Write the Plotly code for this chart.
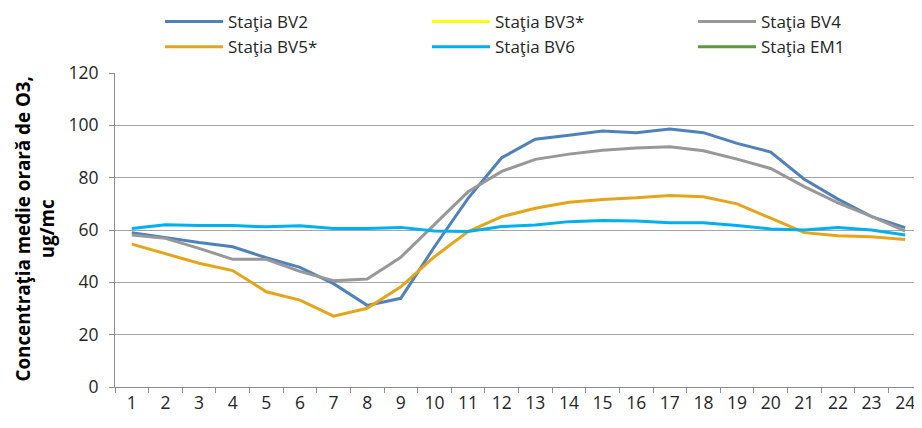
import plotly.graph_objects as go

hours = [str(h) for h in range(1, 25)]

bv2 = [59, 57, 55.2, 53.6, 49.4, 45.7, 39.5, 31.2, 33.9, 53.6, 72.1, 87.6, 94.7, 96.2, 97.8, 97.2, 98.6, 97.2, 93.1, 89.8, 79.4, 71.8, 65.1, 60.9]
bv3 = [None] * 24
bv4 = [58.1, 56.8, 53.0, 48.8, 48.8, 44.2, 40.6, 41.3, 49.6, 62.3, 74.6, 82.4, 87.0, 89.0, 90.5, 91.3, 91.8, 90.3, 87.1, 83.5, 76.6, 70.4, 65.2, 59.6]
bv5 = [54.6, 50.8, 47.3, 44.5, 36.4, 33.2, 27.1, 30.1, 38.3, 49.8, 59.4, 65.1, 68.3, 70.6, 71.7, 72.3, 73.2, 72.7, 70.0, 64.5, 59.0, 57.8, 57.4, 56.4]
bv6 = [60.6, 62.0, 61.7, 61.7, 61.2, 61.6, 60.6, 60.6, 61.0, 59.6, 59.4, 61.3, 61.9, 63.2, 63.6, 63.4, 62.8, 62.8, 61.7, 60.4, 60.0, 61.0, 60.0, 58.1]
em1 = [None] * 24

names = ["Staţia BV2", "Staţia BV3*", "Staţia BV4", "Staţia BV5*", "Staţia BV6", "Staţia EM1"]
series = [bv2, bv3, bv4, bv5, bv6, em1]
colors = ["#4F81BD", "#FFFF00", "#989898", "#E6A519", "#00B0F0", "#5B9A38"]
legend_ids = ["legend", "legend2", "legend3", "legend", "legend2", "legend3"]

font_family = "'Open Sans', Lato, sans-serif"

fig = go.Figure()
for name, ys, col, lg in zip(names, series, colors, legend_ids):
    fig.add_trace(go.Scatter(
        x=hours, y=ys, name=name, mode="lines",
        line=dict(color=col, width=3),
        legend=lg,
        hoverinfo="skip",
    ))

# page has an 8px body margin, so the figure is 8px smaller than the window
W, H = 914, 420
L, R, T, B = 107, 0, 65, 41
pw = W - L - R
ph = H - T - B


def legend_at(px):
    return dict(
        orientation="v",
        x=(px - L) / pw, xanchor="left",
        y=1 + (T + 4) / ph, yanchor="top",
        itemwidth=58,
        font=dict(family=font_family, size=17, color="#262626"),
        bgcolor="rgba(0,0,0,0)",
        borderwidth=0,
    )


fig.update_layout(
    width=W, height=H,
    margin=dict(l=L, r=R, t=T, b=B, autoexpand=False),
    plot_bgcolor="white", paper_bgcolor="white",
    font=dict(family=font_family, size=17, color="#262626"),
    showlegend=True,
    legend=legend_at(152),
    legend2=legend_at(419),
    legend3=legend_at(685),
    xaxis=dict(
        type="category",
        range=[-0.5, 23.5],
        showgrid=False,
        showline=True, linecolor="#8C8C8C", linewidth=1,
        ticks="outside", tickson="boundaries", ticklen=5, tickcolor="#8C8C8C",
        tickfont=dict(size=17.5),
        fixedrange=True,
    ),
    yaxis=dict(
        range=[0, 120], dtick=20, tick0=0,
        showgrid=True, gridcolor="#A6A6A6", gridwidth=1,
        showline=True, linecolor="#8C8C8C", linewidth=1,
        ticks="outside", ticklen=5, tickcolor="#8C8C8C",
        ticklabelstandoff=7,
        tickfont=dict(size=17.5),
        zeroline=False,
        fixedrange=True,
    ),
    annotations=[dict(
        text="<b>Concentraţia medie orară de O3,</b><br><b>ug/mc</b>",
        textangle=-90,
        xref="paper", yref="paper",
        x=0, xshift=-80.5, xanchor="center",
        y=1 - (221 - T) / ph, yanchor="middle",
        showarrow=False,
        font=dict(family=font_family, size=18.8, color="#000000"),
    )],
)

fig.write_html("out.html")
